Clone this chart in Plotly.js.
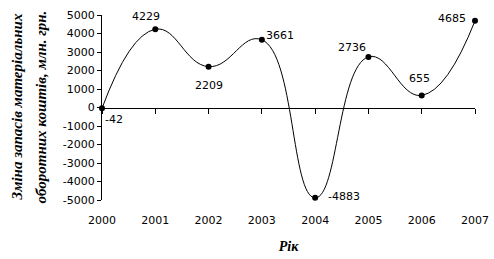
<!DOCTYPE html>
<html><head><meta charset="utf-8">
<script src="https://cdn.plot.ly/plotly-3.0.1.min.js"></script>
<style>body{margin:0;padding:0;background:#fff}#chart{width:494px;height:259px}</style>
</head><body><div id="chart"></div>
<script>
const years = [2000, 2001, 2002, 2003, 2004, 2005, 2006, 2007];
const values = [-42, 4229, 2209, 3661, -4883, 2736, 655, 4685];
const valueLabels = ["-42", "4229", "2209", "3661", "-4883", "2736", "655", "4685"];
const yTicks = [-5000, -4000, -3000, -2000, -1000, 0, 1000, 2000, 3000, 4000, 5000];
const yTitleLines = ["Зміна запасів матеріальних", "оборотних коштів, млн. грн."];
const xTitle = "Рік";

// label placement (pixel offsets from each point) – styling only
const labelDx = [12, -9, 0, 18, 29, -16, -2, -23];
const labelDy = [-11, 13, -19, 4, 1, 9, 17, 2];
const titleShift = [-86, -62];

const tickFont = {family: "DejaVu Sans", size: 11, color: "#000"};
const titleFont = {family: "Liberation Serif", size: 15, color: "#000"};

const trace = {
  x: years, y: values, type: "scatter", mode: "lines+markers",
  line: {shape: "spline", smoothing: 1.3, color: "#000", width: 1},
  marker: {color: "#000", size: 6},
  cliponaxis: false, hoverinfo: "none"
};
const zeroAxisTrace = {x: years, y: values.map(() => null), xaxis: "x2", yaxis: "y", mode: "markers", showlegend: false, hoverinfo: "none"};

const annotations = years.map((yr, i) => ({
  x: yr, y: values[i], xref: "x", yref: "y", text: valueLabels[i], showarrow: false,
  xshift: labelDx[i], yshift: labelDy[i], font: tickFont, xanchor: "center", yanchor: "middle"
})).concat(yTitleLines.map((t, i) => ({
  x: 0, y: 0.5, xref: "paper", yref: "paper", text: "<b><i>" + t + "</i></b>", showarrow: false,
  textangle: -90, xanchor: "center", yanchor: "middle", xshift: titleShift[i], font: titleFont
})));

const layout = {
  width: 494, height: 259,
  margin: {l: 102, r: 19, t: 15, b: 59},
  paper_bgcolor: "#fff", plot_bgcolor: "#fff",
  showlegend: false,
  font: tickFont,
  annotations: annotations,
  xaxis: {
    range: [years[0], years[years.length - 1]], tickvals: years, ticktext: years.map(String),
    showgrid: false, zeroline: false, showline: false,
    ticks: "outside", ticklen: 10, tickcolor: "rgba(0,0,0,0)",
    tickfont: tickFont, fixedrange: true,
    title: {text: "<b><i>" + xTitle + "</i></b>", font: {family: "Liberation Serif", size: 14, color: "#000"}, standoff: 14}
  },
  xaxis2: {
    range: [years[0], years[years.length - 1]], tickvals: years, overlaying: "x", anchor: "free",
    position: (0 - yTicks[0]) / (yTicks[yTicks.length - 1] - yTicks[0]),
    showticklabels: false, ticks: "outside", ticklen: 5, tickcolor: "#000", tickwidth: 1,
    showline: true, linecolor: "#000", linewidth: 1, showgrid: false, zeroline: false
  },
  yaxis: {
    range: [yTicks[0], yTicks[yTicks.length - 1]], tickvals: yTicks, ticktext: yTicks.map(String),
    showgrid: false, zeroline: false, showline: true, linecolor: "#000", linewidth: 1,
    ticks: "outside", ticklen: 4, tickcolor: "#000", tickfont: tickFont, fixedrange: true
  }
};
Plotly.newPlot("chart", [trace, zeroAxisTrace], layout, {staticPlot: true, displayModeBar: false});
</script></body></html>
